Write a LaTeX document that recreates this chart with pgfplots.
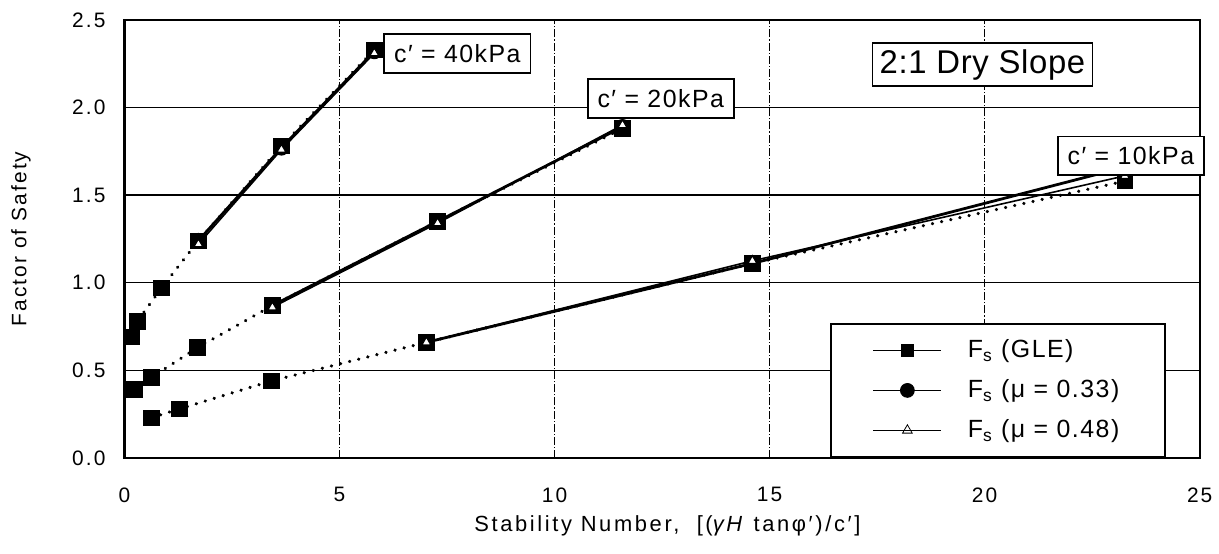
\documentclass[border=0pt]{standalone}
\usepackage{fontspec}
\setmainfont{Liberation Sans}[LetterSpace=10]
\newfontfamily\xlabfont{Liberation Sans}[LetterSpace=12]
\newfontfamily\boxfont{Liberation Sans}[LetterSpace=6]
\newfontfamily\titlefont{Liberation Sans}[LetterSpace=2]
\usepackage{pgfplots}
\pgfplotsset{compat=1.18}

% series styles
\pgfplotsset{
  gle/.style={black, line width=1.7pt, dash pattern=on 0.1pt off 4.6pt, line cap=round,
    mark=square*, mark size=3.9pt, mark options={solid, line width=0.4pt}},
  mua/.style={black, line width=1.4pt, solid, mark=*, mark size=3.2pt},
  mub/.style={black, line width=0.8pt, solid, mark=triangle*, mark size=2.6pt,
    mark options={fill=white, line width=0.6pt}},
}

\begin{document}
\begin{tikzpicture}
\begin{axis}[
  scale only axis,
  width=540pt, height=220pt,
  xmin=0, xmax=25, ymin=0, ymax=2.5,
  xtick={0,5,...,25},
  ytick={0,0.5,...,2.5},
  yticklabel style={/pgf/number format/fixed, /pgf/number format/fixed zerofill,
    /pgf/number format/precision=1, xshift=-6pt},
  /pgf/number format/assume math mode=true,
  tick label style={font=\fontsize{10.5}{12}\selectfont},
  xticklabel style={anchor=center, yshift=-18.5pt},
  major tick length=0pt,
  axis line style={line width=1.2pt},
  xmajorgrids=true, ymajorgrids=true,
  x grid style={black, line width=0.4pt, dash pattern=on 4pt off 1pt on 0.6pt off 1pt},
  y grid style={black, line width=0.7pt},
  xlabel={\xlabfont Stability Number,\ \ [(\textit{γH} tanφ′)/c′]},
  ylabel={Factor of Safety},
  label style={font=\fontsize{10.5}{12}\selectfont},
  xlabel style={font=\fontsize{11}{12}\selectfont, at={(axis description cs:0.505,0)},
    anchor=center, yshift=-34pt},
  ylabel style={yshift=14pt},
  legend cell align=left,
  legend style={at={(0.969,0)}, anchor=south east, draw=black, line width=1.2pt,
    fill=white, font=\boxfont\fontsize{12.5}{14}\selectfont,
    inner xsep=21pt, inner ysep=6pt, row sep=5.5pt,
    /tikz/every odd column/.append style={column sep=11pt}},
  legend image code/.code={
    \draw[mark repeat=2, mark phase=2, #1] plot coordinates {(0cm,0cm) (0.6cm,0cm) (1.2cm,0cm)};},
]
\addlegendimage{black, line width=0.6pt, mark=square*, mark size=2.8pt}
\addlegendentry{F\textsubscript{s} (GLE)}
\addlegendimage{black, line width=0.6pt, mark=*, mark size=3.4pt}
\addlegendentry{F\textsubscript{s} (μ = 0.33)}
\addlegendimage{black, line width=0.4pt, mark=triangle, mark size=2.8pt, mark options={line width=0.4pt}}
\addlegendentry{F\textsubscript{s} (μ = 0.48)}

% c' = 40 kPa
\addplot[gle, forget plot] coordinates {(0.16,0.69) (0.30,0.78) (0.86,0.97) (1.72,1.24) (3.65,1.78) (5.81,2.33)};
\addplot[mua, forget plot] coordinates {(1.72,1.24) (3.65,1.77) (5.81,2.32)};
\addplot[mub, forget plot] coordinates {(1.72,1.22) (3.65,1.76) (5.81,2.31)};
% c' = 20 kPa
\addplot[gle, forget plot] coordinates {(0.23,0.39) (0.63,0.46) (1.70,0.63) (3.44,0.87) (7.28,1.35) (11.58,1.88)};
\addplot[mua, forget plot] coordinates {(3.44,0.87) (7.28,1.35) (11.58,1.89)};
\addplot[mub, forget plot] coordinates {(3.44,0.86) (7.28,1.34) (11.58,1.90)};
% c' = 10 kPa
\addplot[gle, forget plot] coordinates {(0.63,0.23) (1.28,0.28) (3.42,0.44) (7.02,0.66) (14.6,1.11) (23.26,1.58)};
\addplot[mua, forget plot] coordinates {(7.02,0.66) (14.6,1.11) (23.26,1.66)};
\addplot[mub, forget plot] coordinates {(7.02,0.66) (14.6,1.125) (23.26,1.61)};

\coordinate (L40) at (axis cs:7.74,2.31);
\coordinate (L20) at (axis cs:12.47,2.05);
\coordinate (L10) at (axis cs:23.4,1.724);
\coordinate (TT) at (axis cs:19.95,2.245);
\end{axis}
% label boxes on top of the plotted lines
\begin{scope}[every node/.style={draw=black, line width=0.9pt, fill=white, inner sep=0pt,
    font=\boxfont\fontsize{12.5}{14}\selectfont, minimum width=73.5pt, minimum height=19.5pt}]
\node at (L40) {c′ = 40kPa};
\node at (L20) {c′ = 20kPa};
\node at (L10) {c′ = 10kPa};
\node[font=\titlefont\fontsize{16.5}{18}\selectfont, minimum width=110.5pt, minimum height=21.5pt]
  at (TT) {2:1 Dry Slope};
\end{scope}
\path (-62.5pt,-48pt) rectangle (547pt,230pt);
\end{tikzpicture}
\end{document}
